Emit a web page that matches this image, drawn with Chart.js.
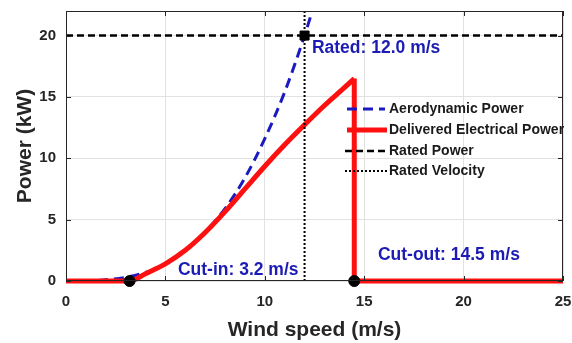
<!DOCTYPE html>
<html>
<head>
<meta charset="utf-8">
<script src="https://cdn.jsdelivr.net/npm/chart.js@4/dist/chart.umd.min.js"></script>
<style>
  html, body { margin: 0; padding: 0; background: #fff; }
</style>
</head>
<body>
<canvas id="powerCurveChart" width="572" height="343"></canvas>
<script>
// values
var aeroWind    = [0, 1, 2, 3, 4, 5, 6, 7, 8, 9, 10, 11, 12, 12.5];
var aeroPower   = [0, 0, 0.1, 0.3, 0.7, 1.4, 2.5, 4.0, 5.9, 8.4, 11.6, 15.4, 20.0, 22.6];
var elecWind    = [0, 3.2, 4, 5, 6, 7, 8, 9, 10, 11, 12, 13, 14, 14.5];
var elecPower   = [0, 0, 0.6, 1.4, 2.5, 3.95, 5.65, 7.5, 9.35, 11.1, 12.73, 14.3, 15.75, 16.5];
var cutOutWind  = [14.5, 14.5, 25];
var cutOutPower = [16.5, 0, 0];
var ratedPower  = 20;
var ratedSpeed  = 12.0;
var cutInSpeed  = 3.2;
var cutOutSpeed = 14.5;
var xTicks = [0, 5, 10, 15, 20, 25];
var yTicks = [0, 5, 10, 15, 20];
var legendLabels = ['Aerodynamic Power', 'Delivered Electrical Power', 'Rated Power', 'Rated Velocity'];

var FONT = "'Liberation Sans', Arial, sans-serif";
var BLUE = '#1a1ac0';
var RED = '#ff1010';
var TEXT_BLUE = '#1c1cb4';
var INK = '#262626';

function pts(xs, ys) {
    return xs.map(function (x, i) { return { x: x, y: ys[i] }; });
}

Chart.defaults.font.family = FONT;

// box around the plot, small inward ticks, annotations and the legend
var decorations = {
    id: 'decorations',
    afterDatasetsDraw: function (chart) {
        var ctx = chart.ctx;
        var xs = chart.scales.x, ys = chart.scales.y;
        ctx.save();
        ctx.font = 'bold 17.5px ' + FONT;
        ctx.fillStyle = TEXT_BLUE;
        ctx.textBaseline = 'middle';
        ctx.textAlign = 'left';
        ctx.fillText('Rated: ' + ratedSpeed.toFixed(1) + ' m/s', xs.getPixelForValue(12.37), ys.getPixelForValue(18.98));
        ctx.fillText('Cut-in: ' + cutInSpeed.toFixed(1) + ' m/s', xs.getPixelForValue(5.63), ys.getPixelForValue(0.9));
        ctx.fillText('Cut-out: ' + cutOutSpeed.toFixed(1) + ' m/s', xs.getPixelForValue(15.69), ys.getPixelForValue(2.12));
        ctx.restore();
    },
    afterDraw: function (chart) {
        var ctx = chart.ctx, a = chart.chartArea;
        var xs = chart.scales.x, ys = chart.scales.y;
        ctx.save();
        ctx.strokeStyle = INK;
        ctx.lineWidth = 1;
        ctx.strokeRect(Math.round(a.left) + 0.5, Math.round(a.top) + 0.5,
            Math.round(a.right - a.left) - 1, Math.round(a.bottom - a.top) - 1);
        ctx.beginPath();
        xTicks.forEach(function (v) {
            var px = Math.round(xs.getPixelForValue(v)) + 0.5;
            ctx.moveTo(px, a.bottom); ctx.lineTo(px, a.bottom - 5);
            ctx.moveTo(px, a.top); ctx.lineTo(px, a.top + 5);
        });
        yTicks.forEach(function (v) {
            var py = Math.round(ys.getPixelForValue(v)) + 0.5;
            ctx.moveTo(a.left, py); ctx.lineTo(a.left + 5, py);
            ctx.moveTo(a.right, py); ctx.lineTo(a.right - 5, py);
        });
        ctx.stroke();

        // legend
        var styles = [
            { color: BLUE, width: 3, dash: [10, 6], x0: 347, x1: 385 },
            { color: RED, width: 5, dash: [], x0: 347, x1: 387 },
            { color: '#000', width: 2.5, dash: [7, 4], x0: 345, x1: 385 },
            { color: '#000', width: 2, dash: [2, 2], x0: 345, x1: 387 }
        ];
        var rows = [109, 130, 151, 171];
        ctx.font = 'bold 14px ' + FONT;
        ctx.textBaseline = 'middle';
        ctx.textAlign = 'left';
        legendLabels.forEach(function (label, i) {
            var s = styles[i];
            ctx.beginPath();
            ctx.setLineDash(s.dash);
            ctx.strokeStyle = s.color;
            ctx.lineWidth = s.width;
            ctx.moveTo(s.x0, rows[i]);
            ctx.lineTo(s.x1, rows[i]);
            ctx.stroke();
            ctx.setLineDash([]);
            ctx.fillStyle = '#1a1a1a';
            ctx.fillText(label, 389, rows[i]);
        });
        ctx.restore();
    }
};

var powerCurveChart = new Chart(document.getElementById('powerCurveChart'), {
    type: 'scatter',
    data: {
        datasets: [{
            label: legendLabels[0],
            data: pts(aeroWind, aeroPower),
            showLine: true,
            borderColor: BLUE,
            borderWidth: 3,
            borderDash: [10, 6],
            cubicInterpolationMode: 'monotone',
            pointRadius: 0,
            order: 6
        }, {
            label: legendLabels[1],
            data: pts(elecWind, elecPower),
            showLine: true,
            borderColor: RED,
            borderWidth: 5,
            cubicInterpolationMode: 'monotone',
            pointRadius: 0,
            clip: 6,
            order: 5
        }, {
            label: legendLabels[1],
            data: pts(cutOutWind, cutOutPower),
            showLine: true,
            borderColor: RED,
            borderWidth: 5,
            borderJoinStyle: 'miter',
            tension: 0,
            pointRadius: 0,
            clip: 6,
            order: 5
        }, {
            label: legendLabels[2],
            data: pts([0, 25], [ratedPower, ratedPower]),
            showLine: true,
            borderColor: '#000',
            borderWidth: 2.5,
            borderDash: [7, 4],
            pointRadius: 0,
            order: 4
        }, {
            label: legendLabels[3],
            data: pts([ratedSpeed, ratedSpeed], [0, 22]),
            showLine: true,
            borderColor: '#000',
            borderWidth: 2,
            borderDash: [2, 2],
            pointRadius: 0,
            order: 3
        }, {
            label: 'cut-in / cut-out',
            data: pts([cutInSpeed, cutOutSpeed], [0, 0]),
            pointRadius: 5.5,
            pointBackgroundColor: '#000',
            pointBorderColor: '#000',
            clip: 10,
            order: 1
        }, {
            label: 'rated point',
            data: pts([ratedSpeed], [ratedPower]),
            pointStyle: 'rect',
            pointRadius: 6.4,
            pointBackgroundColor: '#000',
            pointBorderColor: '#000',
            clip: 10,
            order: 0
        }]
    },
    options: {
        responsive: false,
        animation: false,
        layout: { padding: { top: 11, right: 9, left: 0, bottom: 0 } },
        plugins: {
            legend: { display: false },
            tooltip: { enabled: false }
        },
        scales: {
            x: {
                type: 'linear',
                min: 0,
                max: 25,
                afterBuildTicks: function (s) { s.ticks = xTicks.map(function (v) { return { value: v }; }); },
                afterFit: function (s) { s.height = 62; s.paddingLeft = 0; s.paddingRight = 0; },
                grid: { color: '#e2e2e2', drawTicks: false },
                border: { display: false },
                ticks: { padding: 12, color: INK, font: { size: 15, weight: 'bold' } },
                title: {
                    display: true,
                    text: 'Wind speed (m/s)',
                    color: INK,
                    font: { size: 21, weight: 'bold' },
                    padding: { top: 0, bottom: 0 }
                }
            },
            y: {
                min: 0,
                max: 22,
                afterBuildTicks: function (s) { s.ticks = yTicks.map(function (v) { return { value: v }; }); },
                afterFit: function (s) { s.width = 66; s.paddingTop = 0; s.paddingBottom = 0; },
                grid: { color: '#e2e2e2', drawTicks: false },
                border: { display: false },
                ticks: { padding: 10, color: INK, font: { size: 15, weight: 'bold' } },
                title: {
                    display: true,
                    text: 'Power (kW)',
                    color: INK,
                    font: { size: 21, weight: 'bold' },
                    padding: { top: 13, bottom: 0 }
                }
            }
        }
    },
    plugins: [decorations]
});
</script>
</body>
</html>
